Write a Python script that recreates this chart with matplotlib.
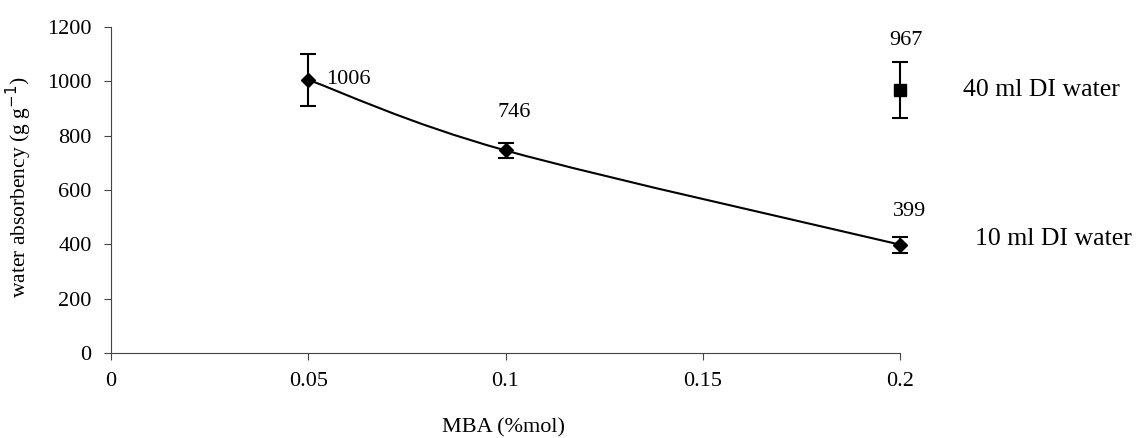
import numpy as np
import matplotlib
matplotlib.use('Agg')
import matplotlib.pyplot as plt
from matplotlib.path import Path
from matplotlib.patches import PathPatch

plt.rcParams['font.family'] = ['Liberation Serif', 'DejaVu Serif']

# 10 ml DI water series
mba_10 = [0.05, 0.1, 0.2]
absorb_10 = [1006, 746, 399]
err_10 = [95, 27, 30]

# 40 ml DI water point
mba_40 = [0.2]
absorb_40 = [967]
err_40 = [103]

x_ticks = [0, 0.05, 0.1, 0.15, 0.2]
x_ticklabels = ['0', '0.05', '0.1', '0.15', '0.2']
y_ticks = [0, 200, 400, 600, 800, 1000, 1200]


def smooth_path(xs, ys):
    # cubic bezier through the points (spreadsheet-style smoothed line)
    pts = np.column_stack([xs, ys]).astype(float)
    n = len(pts)
    verts = [pts[0]]
    codes = [Path.MOVETO]
    for i in range(n - 1):
        p_prev = pts[max(i - 1, 0)]
        p0, p1 = pts[i], pts[i + 1]
        p_next = pts[min(i + 2, n - 1)]
        c1 = p0 + (p1 - p_prev) / 6
        c2 = p1 - (p_next - p0) / 6
        verts += [c1, c2, p1]
        codes += [Path.CURVE4] * 3
    return Path(verts, codes)


fig = plt.figure(figsize=(11.38, 4.38), dpi=100)
ax = fig.add_axes([0.0975, 0.194, 0.6935, 0.744])

ax.add_patch(PathPatch(smooth_path(mba_10, absorb_10), facecolor='none',
                       edgecolor='black', linewidth=1.5, zorder=2))

for xs, ys, es, mk, ms in [(mba_10, absorb_10, err_10, 'D', 7.2),
                           (mba_40, absorb_40, err_40, 's', 8.5)]:
    line, caps, bars = ax.errorbar(xs, ys, yerr=es, fmt=mk, color='black',
                                   markersize=ms, capsize=5.5, capthick=1.5,
                                   elinewidth=1.5, zorder=3)
    for art in [line, *caps, *bars]:
        art.set_clip_on(False)

# value labels
ax.annotate(f'{absorb_10[0]}', (mba_10[0], absorb_10[0]), xytext=(13, 0),
            textcoords='offset points', ha='left', va='center', fontsize=16)
ax.annotate(f'{absorb_10[1]}', (mba_10[1], absorb_10[1]), xytext=(6, 27),
            textcoords='offset points', ha='center', va='center', fontsize=16)
ax.annotate(f'{absorb_10[2]}', (mba_10[2], absorb_10[2]), xytext=(7, 24),
            textcoords='offset points', ha='center', va='center', fontsize=16)
ax.annotate(f'{absorb_40[0]}', (mba_40[0], absorb_40[0]), xytext=(4, 36),
            textcoords='offset points', ha='center', va='center', fontsize=16)

# series names to the right of the plot
ax.annotate('40 ml DI water', (mba_40[0], absorb_40[0]), xytext=(45, 0),
            textcoords='offset points', ha='left', va='center', fontsize=18.5,
            annotation_clip=False)
ax.annotate('10 ml DI water', (mba_10[2], absorb_10[2]), xytext=(54, 4),
            textcoords='offset points', ha='left', va='center', fontsize=18.5,
            annotation_clip=False)

ax.set_xlim(0, 0.2)
ax.set_ylim(0, 1200)
ax.set_xticks(x_ticks)
ax.set_xticklabels(x_ticklabels)
ax.set_yticks(y_ticks)
ax.tick_params(direction='out', length=5, width=0.8, labelsize=16, pad=9,
               color='#444444')
for side in ('top', 'right'):
    ax.spines[side].set_visible(False)
for side in ('left', 'bottom'):
    ax.spines[side].set_linewidth(0.8)
    ax.spines[side].set_color('#444444')

ax.set_xlabel('MBA (%mol)', fontsize=16)
ax.xaxis.set_label_coords(0.498, -0.2)
ax.set_ylabel('water absorbency (g g$^{-1}$)', fontsize=15.5)
ax.yaxis.set_label_coords(-0.097, 0.51)

fig.savefig('out.png', dpi=100)
